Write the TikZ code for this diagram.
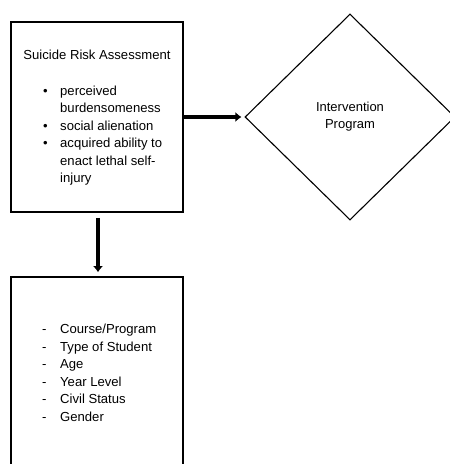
\documentclass[tikz,border=0pt]{standalone}
\usepackage{fontspec}
\setmainfont{Liberation Sans}
\usetikzlibrary{positioning}
\usetikzlibrary{arrows.meta,shapes}
\usetikzlibrary{calc}
\tikzstyle{box}=[rectangle,draw=black,line width=1.6pt,minimum width=172pt,inner sep=0pt]
\tikzstyle{decision}=[diamond,draw=black,line width=1.1pt,minimum width=210pt,minimum height=206pt,inner sep=0pt,align=center,font=\fontsize{13}{17}\selectfont]
\tikzstyle{edge} = [draw,line width=3.3pt,-{Latex[length=6pt,width=10pt]}]
\tikzstyle{item} = [anchor=base west,inner sep=0pt,font=\fontsize{13.1}{17}\selectfont]

\begin{document}
\begin{tikzpicture}[x=1pt,y=-1pt]
    % page frame
    \clip (0,0) rectangle (450,464);

    % First we draw the boxes
    \node[box,minimum height=190pt] (risk) at (97,117) {};
    \node[box,minimum height=210pt] (profile) at (97,382) {};
    \node[decision] (program) at (350,117) {Intervention\\Program};

    % title of the assessment box
    \node[item,anchor=base] (title) at (97,59.5) {Suicide Risk Assessment};

    % bullets and their items
    \foreach \y/\name in {{95/b1}, {130/b2}, {147.5/b3}}
        \node[item] (\name) at (43,\y) {\textbullet};
    \foreach \y/\name/\label in {{95/r1/perceived}, {112.5/r2/burdensomeness}, {130/r3/social alienation}, {147.5/r4/acquired ability to}, {165/r5/enact lethal self-}, {182.5/r6/injury}}
        \node[item] (\name) at (60,\y) {\label};

    % student profile
    \foreach \y/\name/\label in {{333.5/p1/{Course/Program}}, {351/p2/Type of Student}, {368.5/p3/Age}, {386/p4/Year Level}, {403.5/p5/Civil Status}, {421/p6/Gender}}
    {
        \node[item] (d\name) at (42,\y) {-};
        \node[item] (\name) at (60,\y) {\label};
    }

    % Connect boxes with arrows
    \path[edge,shorten >=3pt] (risk.east) -- (program.west);
    \path[edge,shorten <=5pt,shorten >=4pt] ([xshift=1pt]risk.south) -- ([xshift=1pt]profile.north);
\end{tikzpicture}
\end{document}
